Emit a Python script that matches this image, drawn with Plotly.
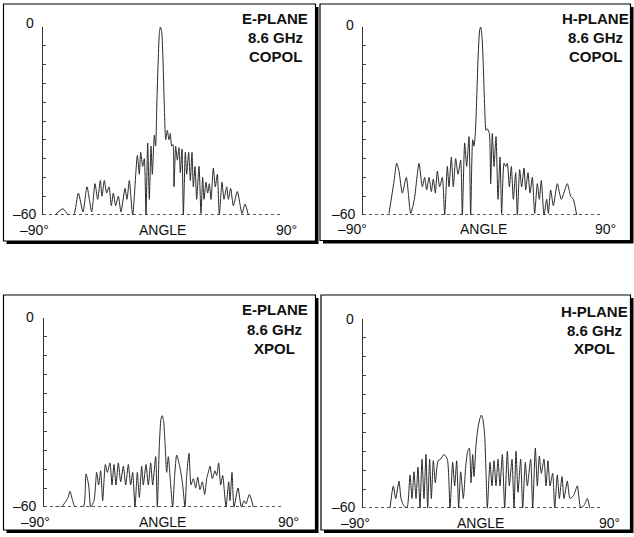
import plotly.graph_objects as go

W, H = 634, 537

# ---- data (angle in degrees, level in dB) ----
e_copol_angle = [-81, -75, -71, -67, -63.5, -60, -57, -53.5, -51, -49, -47, -45.75, -44, -42.25, -40.5,
                 -38.75, -37.25, -35.5, -33.5, -31.5, -28.5, -27, -25.25, -22.75, -19.25, -17.75, -16.75,
                 -15.25, -14, -12.75, -11.5, -10.25, -9, -8, -6.5, -5.5, -4.75, -3.75, -2.75, -2, -1, 0, 1,
                 2, 3.25, 4.5, 5.5, 6.5, 7.5, 8.25, 9.5, 10.75, 12, 13, 14.25, 15.25, 16.75, 17.75, 19.25,
                 20.5, 21.75, 22.75, 24, 25.25, 27, 28.5, 29.75, 30.75, 32.25, 33.5, 34.75, 36, 37.75,
                 39.25, 40.75, 42.25, 44.25, 45.75, 47.75, 49, 50.75, 52.75, 55.75, 59.25, 61.5, 64]
e_copol_db = [-60, -58, -60, -60, -53, -59, -51, -59, -50, -55, -49, -54, -49, -53, -51,
              -57, -53, -57, -54, -59, -51.5, -55, -49, -60, -41, -47, -40,
              -44.5, -42, -60, -37, -55, -38, -47, -34.5, -38, -26.5, -12.5, -2, 0, -1.5, -10.5, -25.5,
              -36, -33, -36, -34, -38, -37.5, -51, -38, -42.5, -38.5, -46.5, -39, -60, -40, -47, -40,
              -49, -40, -51, -44.5, -55, -44.5, -59.5, -48, -55, -49.5, -53, -50, -55, -45,
              -51, -47, -60, -49.5, -55, -51, -55, -51.5, -57, -52.5, -59.5, -56.5, -60]

h_copol_angle = [-70.5, -67, -64.75, -63, -60.5, -57.5, -54.25, -51.5, -48, -45.5, -43.75, -42.25, -40.5,
                 -38.75, -37.25, -35.75, -34.25, -32.5, -30.5, -28.75, -26.75, -25.5, -23.75, -22.25,
                 -20.5, -18.75, -16.75, -15.5, -13.75, -12.25, -10.5, -9.25, -7.75, -6.75, -5.75, -4.75,
                 -3.75, -2.5, -1.75, -0.75, 0.25, 1.25, 2.25, 3.25, 4.75, 5.75, 7, 8.25, 9.75, 11.25,
                 12.75, 14, 15.75, 17, 18.25, 19.75, 21.25, 22.75, 24.5, 25.75, 27.5, 29, 30.75, 32,
                 33.75, 35.25, 37, 38.75, 40.75, 42.25, 43.75, 45.75, 47.75, 49, 50.75, 52.75, 55.75,
                 58.75, 63.25, 65.75, 67.75, 70.25]
h_copol_db = [-59.5, -50, -43.5, -46, -53, -48, -59.5, -55, -43.5, -51, -48, -52, -48,
              -52.5, -48.5, -53, -46, -51, -48, -60, -44.5, -51, -41.5, -51,
              -42, -47, -42.5, -60, -37, -44.5, -35, -60, -36, -38, -34, -23,
              -10.5, -1, 0, -3, -12.5, -25.5, -33, -32.5, -34, -50, -34, -44.5, -35, -55,
              -41.5, -59.5, -43.5, -44.5, -43.5, -51, -44.5, -55, -46.5, -60, -45.5, -51, -45, -52,
              -46.5, -53, -48, -59.5, -50, -55, -49, -60, -55, -59.5, -52, -57, -50,
              -55, -50, -54, -55, -60]

e_xpol_angle = [-81.75, -77, -72, -70.5, -68.5, -66.75, -60.5, -58.5, -56.5, -55, -52.5, -50.5, -49, -47.5,
                -46, -44, -42.5, -40.5, -39, -37.5, -36, -34.25, -32.5, -30.5, -28.75, -26.75, -25,
                -23.5, -21.75, -20, -18.5, -16.75, -15.5, -13.5, -11.75, -10, -8.5, -6.25, -5, -3.5,
                -2.25, -1.25, -0.25, 0.75, 2, 3.25, 5, 6.5, 8, 9.5, 12, 14, 15.75, 17, 18.75, 20.25,
                22, 23.75, 25.25, 27, 28.75, 30.5, 32, 33.25, 34.5, 36.25, 38.25, 39.5, 41, 42.5, 44,
                46.5, 48.5, 49.5, 51, 52.5, 55.5, 58, 60, 61.5, 64, 67]
e_xpol_db = [-60, -60, -57, -55, -58, -60, -60, -49.5, -53, -60, -58, -49, -53, -48.5,
             -58, -46.5, -49, -46, -53, -46.5, -53, -46, -52, -47, -53, -46.5, -53,
             -49, -60, -49, -57, -47, -53, -46.5, -53, -46, -53, -44, -60, -40.5,
             -32, -31, -33, -39.5, -49, -44, -53, -60, -50, -43.5, -47.5, -53, -60, -50, -43, -53,
             -51, -54, -50.5, -54.5, -52, -56, -51, -49, -47, -51, -48.5, -50, -46, -53, -50,
             -60, -52, -58, -49, -60, -54, -60, -58, -59, -56, -60]

h_xpol_angle = [-69.75, -67.25, -65.5, -63, -61.5, -59.75, -57, -54.75, -53.25, -51.75, -50.25, -48.75,
                -47.25, -45.75, -44.25, -42.75, -41.5, -40, -38.75, -37.25, -35.75, -33.75, -31.75,
                -29.25, -26.75, -24.75, -22.75, -21.25, -19.75, -18.25, -16.75, -14.75, -13, -11.5,
                -10.25, -9, -7.75, -6.75, -5.25, -3.75, -2.25, -1.25, 0, 1.25, 2.25, 3.25, 5.25, 6.75,
                8.25, 9.75, 11.25, 12.75, 14.5, 16.25, 18.25, 19.75, 21.75, 23.25, 24.75, 26.25, 28.25,
                29.75, 31.75, 33.25, 35.75, 37.25, 39.25, 40.75, 42.25, 43.75, 45.75, 47.25, 48.75,
                50.25, 52.25, 53.75, 55.75, 57.25, 59.25, 60.75, 63.25, 65.25, 68, 70.75, 73.25, 76,
                78.25, 80]
h_xpol_db = [-60, -53, -57, -51.5, -57, -59, -60, -49.5, -57, -48.5, -57, -47,
             -60, -44.5, -57, -43, -60, -44.5, -57, -45, -52, -45, -44.5,
             -43, -44.5, -60, -45.5, -53, -45, -60, -48.5, -57, -47, -42,
             -41, -52, -43, -50, -40, -34.5, -31.5, -30.5, -32, -37, -48.5, -60, -45.5, -53,
             -45, -53, -44.5, -53, -43, -60, -42, -53, -44.5, -60, -42, -55, -44.5,
             -60, -45.5, -53, -44.5, -60, -41, -53, -43.5, -49, -44.5, -53, -45,
             -53, -49, -60, -49.5, -57, -50, -57, -51.5, -57, -56, -53, -60, -59,
             -57, -60]

panels = [
    ("E-PLANE", "8.6 GHz", "COPOL", e_copol_angle, e_copol_db),
    ("H-PLANE", "8.6 GHz", "COPOL", h_copol_angle, h_copol_db),
    ("E-PLANE", "8.6 GHz", "XPOL", e_xpol_angle, e_xpol_db),
    ("H-PLANE", "8.6 GHz", "XPOL", h_xpol_angle, h_xpol_db),
]
x_ticks = ["\u201390\u00b0", "ANGLE", "90\u00b0"]
y_ticks = ["0", "\u201360"]

# ---- layout geometry (pixels) ----
def px(x):
    return x / W

def py(y):
    return 1 - y / H

plot_px = [  # x0, x1, ytop, ybottom
    (43, 283, 27, 215),
    (363, 603, 27, 215),
    (44, 284, 318, 507),
    (363, 603, 319, 508),
]
box_px = [  # x0, x1, y0, y1
    (3.5, 315.5, 4, 241),
    (320, 630.5, 4, 240.5),
    (3.5, 315.5, 295, 530),
    (321, 630.5, 295, 530),
]
title_px = [(275, (18.5, 37.5, 56)), (595, (18.5, 37.5, 56)),
            (274.5, (310, 329.5, 348)), (594, (311, 330, 348.5))]
lab_px = [  # 0 label (right x, y), -60 (right x, y), bottom row y, -90 cx, ANGLE cx, 90 cx
    (36, 23.5, 39, 214, 230, 34, 162.5, 286),
    (356, 25, 358, 213.5, 228.5, 352.5, 483, 605),
    (36, 316.5, 39, 506, 521.5, 35, 162.5, 288),
    (356, 318.5, 358, 507, 522.5, 355, 481, 609),
]

fig = go.Figure()
shapes = []
annotations = []
LABEL_FONT = dict(family="Liberation Sans, Arial, sans-serif", size=14, color="#111")
TITLE_FONT = dict(family="Liberation Sans, Arial, sans-serif", size=15, color="#111")

for i, (t1, t2, t3, ang, db) in enumerate(panels):
    n = "" if i == 0 else str(i + 1)
    xa, ya = "x" + n, "y" + n
    fig.add_trace(go.Scatter(x=ang, y=db, mode="lines", xaxis=xa, yaxis=ya,
                             line=dict(color="#2a2a2a", width=1, shape="spline", smoothing=0.6),
                             showlegend=False, hoverinfo="skip"))
    x0, x1, yt, yb = plot_px[i]
    fig.layout["xaxis" + n] = dict(domain=[px(x0), px(x1)], range=[-90, 90], anchor=ya,
                                   showline=False, showgrid=False, zeroline=False,
                                   showticklabels=False, ticks="")
    fig.layout["yaxis" + n] = dict(domain=[py(yb), py(yt)], range=[-60, 0], anchor=xa,
                                   showline=True, linecolor="#333", linewidth=1, mirror=False,
                                   showgrid=False, zeroline=False, showticklabels=False,
                                   ticks="inside", ticklen=3, tickcolor="#444", tickwidth=1,
                                   tick0=0, dtick=6)
    # dotted baseline at -60 dB
    shapes.append(dict(type="line", xref=xa, yref=ya, x0=-90, x1=90, y0=-60, y1=-60,
                       line=dict(color="#222", width=1.5, dash="dot"), layer="above"))
    # panel box with drop shadow
    bx0, bx1, by0, by1 = box_px[i]
    shapes.append(dict(type="rect", xref="paper", yref="paper",
                       x0=px(bx0 + 3), x1=px(bx1 + 3), y0=py(by1 + 3), y1=py(by0 + 3),
                       fillcolor="#000", line=dict(width=0), layer="below"))
    shapes.append(dict(type="rect", xref="paper", yref="paper",
                       x0=px(bx0), x1=px(bx1), y0=py(by1), y1=py(by0),
                       fillcolor="#fff", line=dict(color="#000", width=1.2), layer="below"))
    # titles
    cx, ys = title_px[i]
    for txt, yy in zip((t1, t2, t3), ys):
        annotations.append(dict(text="<b>%s</b>" % txt, x=px(cx), y=py(yy), xref="paper", yref="paper",
                                xanchor="center", yanchor="middle", showarrow=False, font=TITLE_FONT))
    # tick labels
    r0x, r0y, r60x, r60y, by, c90n, cang, c90 = lab_px[i]
    annotations.append(dict(text=y_ticks[0], x=px(r0x), y=py(r0y), xref="paper", yref="paper",
                            xanchor="right", yanchor="middle", showarrow=False, font=LABEL_FONT))
    annotations.append(dict(text=y_ticks[1], x=px(r60x), y=py(r60y), xref="paper", yref="paper",
                            xanchor="right", yanchor="middle", showarrow=False, font=LABEL_FONT))
    for txt, cxx in zip(x_ticks, (c90n, cang, c90)):
        annotations.append(dict(text=txt, x=px(cxx), y=py(by), xref="paper", yref="paper",
                                xanchor="center", yanchor="middle", showarrow=False, font=LABEL_FONT))

fig.update_layout(width=W, height=H, margin=dict(l=0, r=0, t=0, b=0),
                  paper_bgcolor="#fff", plot_bgcolor="rgba(0,0,0,0)",
                  shapes=shapes, annotations=annotations, showlegend=False)

fig.write_html("out.html", config={"displayModeBar": False},
               post_script="document.body.style.margin='0';document.body.style.padding='0';"
                           "document.body.style.overflow='hidden';")
